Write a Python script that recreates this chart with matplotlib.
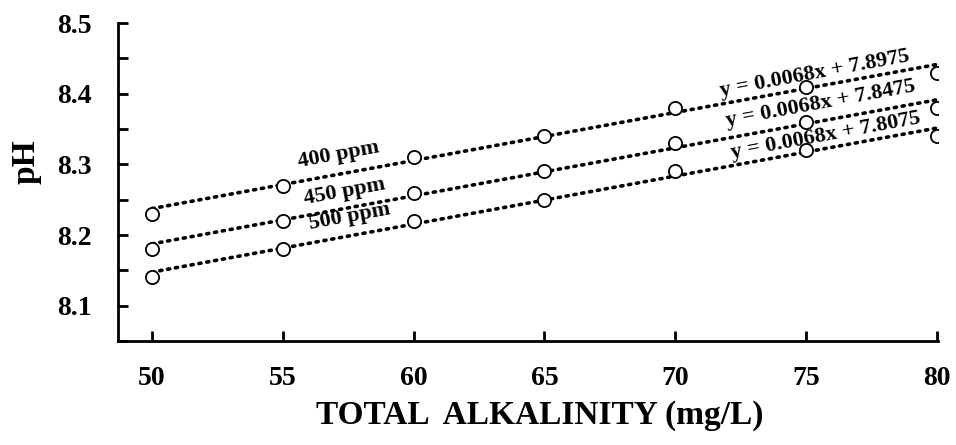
import numpy as np
import matplotlib
matplotlib.use("Agg")
import matplotlib.pyplot as plt
from matplotlib.ticker import MultipleLocator

alkalinity = [50, 55, 60, 65, 70, 75, 80]
ph_400 = [8.23, 8.27, 8.31, 8.34, 8.38, 8.41, 8.43]
ph_450 = [8.18, 8.22, 8.26, 8.29, 8.33, 8.36, 8.38]
ph_500 = [8.14, 8.18, 8.22, 8.25, 8.29, 8.32, 8.34]
series_labels = ["400 ppm", "450 ppm", "500 ppm"]
equations = ["y = 0.0068x + 7.8975", "y = 0.0068x + 7.8475", "y = 0.0068x + 7.8075"]
slope = 0.0068
intercepts = [7.8975, 7.8475, 7.8075]
y_ticks = [8.1, 8.2, 8.3, 8.4, 8.5]

plt.rcParams['font.family'] = ['Liberation Serif', 'DejaVu Serif']
plt.rcParams['font.weight'] = 'bold'

fig = plt.figure(figsize=(9.56, 4.45), dpi=100)
ax = fig.add_axes([0.1234, 0.2337, 0.858, 0.7143])

x = np.array(alkalinity, dtype=float)
for ys, b in zip([ph_400, ph_450, ph_500], intercepts):
    ax.plot([x[0], x[-1]], [slope * x[0] + b, slope * x[-1] + b], color='black',
            linestyle=(0, (0.6, 1.6)), linewidth=2.6, dash_capstyle='round', zorder=2)
    ax.plot(x, ys, linestyle='none', marker='o', markersize=9.5, markerfacecolor='white',
            markeredgecolor='black', markeredgewidth=1.3, zorder=3)

ax.set_xlim(48.7, 80.05)
ax.set_ylim(8.05, 8.5)
ax.set_yticks(y_ticks)
ax.set_yticklabels([f"{v:.1f}" for v in y_ticks])
ax.yaxis.set_minor_locator(MultipleLocator(0.05))
ax.set_xticks(alkalinity)
ax.set_xticklabels([str(v) for v in alkalinity])

for side in ['top', 'right']:
    ax.spines[side].set_visible(False)
for side in ['left', 'bottom']:
    ax.spines[side].set_linewidth(2.0)

ax.tick_params(axis='both', which='both', direction='in', width=2.0, length=7)
ax.tick_params(axis='y', which='major', pad=19, labelsize=20)
ax.tick_params(axis='x', which='major', pad=18, labelsize=20)

fig.text(540 / 956, (445 - 424) / 445, "TOTAL  ALKALINITY (mg/L)", fontsize=24,
         fontweight='bold', ha='center', va='baseline')
fig.text(26 / 956, (445 - 162) / 445, "pH", fontsize=24, fontweight='bold',
         rotation=90, ha='center', va='center')

label_pos = [(57.15, 8.314), (57.35, 8.262), (57.55, 8.226)]
eq_pos = [(75.32, 8.429), (75.55, 8.386), (75.74, 8.341)]
for (lx, ly), txt in zip(label_pos, series_labels):
    ax.text(lx, ly, txt, fontsize=16, fontweight='bold', rotation=10.5,
            ha='center', va='center', zorder=4)
for (lx, ly), txt in zip(eq_pos, equations):
    ax.text(lx, ly, txt, fontsize=16, fontweight='bold', rotation=10.5,
            ha='center', va='center', zorder=4)

fig.savefig("out.png", dpi=100)
